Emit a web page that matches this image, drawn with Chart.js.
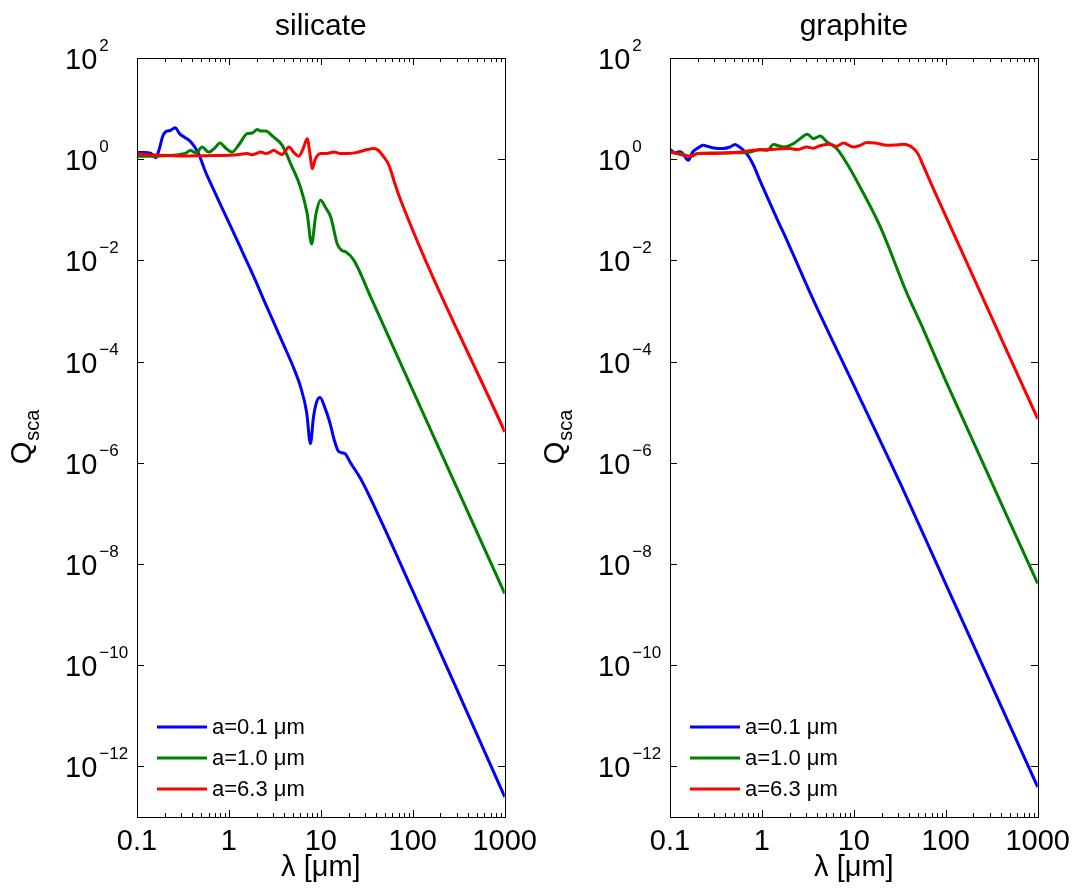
<!DOCTYPE html>
<html>
<head>
<meta charset="utf-8">
<title>Q_sca silicate / graphite</title>
<script src="https://cdn.jsdelivr.net/npm/chart.js@4.4.1/dist/chart.umd.min.js"></script>
<style>
  body { margin: 0; background: #fff; }
  .panel { position: absolute; top: 0; }
</style>
</head>
<body>
<div class="panel" style="left:0px"><canvas id="silicateChart" width="545" height="892"></canvas></div>
<div class="panel" style="left:533px"><canvas id="graphiteChart" width="545" height="892"></canvas></div>
<script>
// Axis ticks
var xTickValues = [0.1, 1, 10, 100, 1000];
var xTickLabels = ['0.1', '1', '10', '100', '1000'];
var yTickValues = [1e2, 1e0, 1e-2, 1e-4, 1e-6, 1e-8, 1e-10, 1e-12];
var yTickExponents = ['2', '0', '\u22122', '\u22124', '\u22126', '\u22128', '\u221210', '\u221212'];
var panelTitles = ['silicate', 'graphite'];
var seriesLabels = ['a=0.1 \u03bcm', 'a=1.0 \u03bcm', 'a=6.3 \u03bcm'];
var xTitle = '\u03bb [\u03bcm]';

// silicate, a=0.1 um
var silBlueLam = [0.1, 0.12, 0.14, 0.16, 0.175, 0.19, 0.205, 0.23, 0.26, 0.29, 0.33, 0.37, 0.42, 0.47, 0.55, 0.65, 0.8, 1.0, 1.4, 2.0, 2.5, 3.2, 4.0, 5.0, 6.0, 7.0, 7.7, 8.3, 9.0, 9.8, 11, 12.5, 14, 15.5, 17, 18.6, 21, 27, 45, 100, 300, 1000];
var silBlueQ = [1.35, 1.35, 1.32, 1.07, 1.6, 2.8, 3.5, 3.7, 4.2, 3.2, 2.7, 2.35, 1.8, 1.26, 0.59, 0.3, 0.132, 0.056, 0.0148, 3.55e-3, 1.38e-3, 5.0e-4, 2.0e-4, 7.9e-5, 3.2e-5, 1.0e-5, 2.4e-6, 7.9e-6, 1.6e-5, 1.95e-5, 1.26e-5, 6.3e-6, 2.8e-6, 1.7e-6, 1.58e-6, 1.48e-6, 1.0e-6, 4.9e-7, 7.2e-8, 2.9e-9, 3.4e-11, 2.5e-13];

// silicate, a=1.0 um
var silGreenLam = [0.1, 0.15, 0.2, 0.25, 0.3, 0.34, 0.38, 0.44, 0.51, 0.6, 0.7, 0.8, 0.92, 1.08, 1.3, 1.58, 1.8, 2.03, 2.25, 2.5, 3.05, 3.8, 4.68, 6.0, 7.1, 7.93, 8.8, 9.93, 11.2, 12.8, 15.1, 16.8, 18.6, 22.9, 34.8, 100, 1000];
var silGreenQ = [1.15, 1.15, 1.17, 1.2, 1.26, 1.32, 1.48, 1.32, 1.74, 1.38, 1.66, 2.09, 1.66, 1.38, 2.0, 3.2, 3.3, 3.85, 3.6, 3.6, 2.75, 1.88, 0.82, 0.28, 0.084, 0.021, 0.079, 0.155, 0.112, 0.072, 0.021, 0.0158, 0.0148, 0.01, 1.9e-3, 2.7e-5, 2.6e-9];

// silicate, a=6.3 um
var silRedLam = [0.1, 0.13, 0.17, 0.25, 0.35, 0.5, 0.7, 1.0, 1.3, 1.58, 1.8, 2.0, 2.2, 2.5, 2.75, 3.08, 3.4, 3.8, 4.15, 4.49, 5.1, 5.75, 6.4, 7.1, 7.6, 8.05, 8.7, 9.93, 11.5, 13.9, 16, 19.4, 24, 28, 32, 37.8, 42, 48.5, 55, 63, 73.8, 1000];
var silRedQ = [1.29, 1.23, 1.2, 1.17, 1.16, 1.17, 1.18, 1.2, 1.24, 1.29, 1.22, 1.3, 1.39, 1.3, 1.35, 1.5, 1.35, 1.23, 1.5, 1.74, 1.35, 1.14, 1.6, 2.55, 1.3, 0.65, 1.0, 1.29, 1.3, 1.39, 1.3, 1.29, 1.35, 1.45, 1.55, 1.62, 1.5, 1.1, 0.76, 0.355, 0.154, 4.1e-6];

// graphite, a=0.1 um
var graBlueLam = [0.1, 0.115, 0.125, 0.135, 0.158, 0.176, 0.2, 0.23, 0.26, 0.3, 0.38, 0.45, 0.51, 0.56, 0.63, 0.72, 0.81, 0.95, 1.13, 1.5, 1.87, 2.6, 3.64, 10, 32, 100, 1000];
var graBlueQ = [1.55, 1.32, 1.41, 1.35, 0.95, 1.38, 1.66, 1.88, 1.78, 1.66, 1.62, 1.74, 1.95, 1.78, 1.5, 1.12, 0.76, 0.38, 0.186, 0.059, 0.025, 6.4e-3, 1.63e-3, 3.4e-5, 3.9e-7, 4.0e-9, 3.9e-13];

// graphite, a=1.0 um
var graGreenLam = [0.1, 0.13, 0.16, 0.2, 0.3, 0.5, 0.7, 0.955, 1.15, 1.33, 1.71, 2.2, 2.6, 3.13, 3.64, 4.3, 5.1, 6.5, 8.4, 11.7, 19.4, 37.9, 55, 99, 1000];
var graGreenQ = [1.35, 1.3, 1.15, 1.3, 1.32, 1.34, 1.36, 1.55, 1.5, 1.95, 1.74, 2.03, 2.55, 3.1, 2.55, 2.87, 2.19, 1.62, 0.82, 0.28, 0.046, 2.2e-3, 5.0e-4, 4.3e-5, 4.1e-9];

// graphite, a=6.3 um
var graRedLam = [0.1, 0.12, 0.15, 0.17, 0.2, 0.3, 0.5, 0.81, 1.2, 1.6, 2.0, 2.4, 3.1, 3.6, 4.3, 5.5, 6.5, 7.7, 9.9, 11.5, 13.9, 17, 22.9, 28, 34.8, 44.7, 50, 57.5, 74, 1000];
var graRedQ = [1.39, 1.3, 1.15, 1.14, 1.29, 1.3, 1.35, 1.5, 1.55, 1.6, 1.62, 1.55, 1.74, 1.65, 1.85, 1.97, 1.8, 2.09, 1.74, 1.85, 2.13, 2.1, 1.88, 1.9, 1.97, 1.62, 1.26, 0.71, 0.25, 7.4e-6];

var seriesColors = ['#0000ff', '#008000', '#ff0000'];
var fontFamily = '"Liberation Sans", Arial, Helvetica, sans-serif';

Chart.defaults.font.family = fontFamily;
Chart.defaults.color = '#000';

// minor ticks of the log x axis (2..9 in each decade)
var xMinorTicks = [];
for (var d = 0.1; d < 1000; d *= 10) {
    for (var m = 2; m <= 9; m++) xMinorTicks.push(m * d);
}

// Frame, inside ticks, y labels, title and legend
var panelDecor = {
    id: 'panelDecor',
    afterDatasetsDraw: function(chart, args, opts) {
        var ctx = chart.ctx, a = chart.chartArea;
        var xs = chart.scales.x, ys = chart.scales.y;
        var L = Math.round(a.left), R = Math.round(a.right), T = Math.round(a.top), B = Math.round(a.bottom);
        ctx.save();
        ctx.strokeStyle = '#000';
        ctx.lineWidth = 1;
        ctx.strokeRect(L + 0.5, T + 0.5, R - L, B - T);

        ctx.beginPath();
        function xTick(v, len) {
            var px = Math.round(xs.getPixelForValue(v)) + 0.5;
            ctx.moveTo(px, B); ctx.lineTo(px, B - len);
            ctx.moveTo(px, T); ctx.lineTo(px, T + len);
        }
        xTickValues.forEach(function(v) { xTick(v, 7); });
        xMinorTicks.forEach(function(v) { xTick(v, 4); });
        yTickValues.forEach(function(v) {
            var py = Math.round(ys.getPixelForValue(v)) + 0.5;
            ctx.moveTo(L, py); ctx.lineTo(L + 7, py);
            ctx.moveTo(R, py); ctx.lineTo(R - 7, py);
        });
        ctx.stroke();

        // y tick labels 10^n
        ctx.fillStyle = '#000';
        ctx.textAlign = 'left';
        ctx.textBaseline = 'alphabetic';
        yTickValues.forEach(function(v, i) {
            var py = ys.getPixelForValue(v);
            var x0 = a.left - 72;
            ctx.font = '29px ' + fontFamily;
            ctx.fillText('10', x0, py + 11);
            var w = ctx.measureText('10').width;
            ctx.font = '17px ' + fontFamily;
            ctx.fillText(yTickExponents[i], x0 + w + 2, py - 7);
        });

        // y axis title Q_sca
        ctx.save();
        ctx.translate(31, (a.top + a.bottom) / 2);
        ctx.rotate(-Math.PI / 2);
        ctx.font = '29px ' + fontFamily;
        var wQ = ctx.measureText('Q').width;
        ctx.font = '20px ' + fontFamily;
        var wS = ctx.measureText('sca').width;
        var s0 = -(wQ + wS) / 2;
        ctx.font = '29px ' + fontFamily;
        ctx.fillText('Q', s0, 0);
        ctx.font = '20px ' + fontFamily;
        ctx.fillText('sca', s0 + wQ + 1, 8);
        ctx.restore();

        // panel title
        ctx.font = '30px ' + fontFamily;
        ctx.textAlign = 'center';
        ctx.fillText(opts.title, (a.left + a.right) / 2, 35);

        // legend, bottom left inside the axes
        ctx.textAlign = 'left';
        ctx.textBaseline = 'middle';
        ctx.font = '22px ' + fontFamily;
        chart.data.datasets.forEach(function(ds, i) {
            var ly = a.bottom - 90 + i * 31;
            ctx.strokeStyle = ds.borderColor;
            ctx.lineWidth = 3;
            ctx.beginPath();
            ctx.moveTo(a.left + 20, ly);
            ctx.lineTo(a.left + 70, ly);
            ctx.stroke();
            ctx.fillText(ds.label, a.left + 75, ly + 1);
        });
        ctx.restore();
    }
};

function makeChart(canvasId, title, series) {
    var datasets = series.map(function(s, i) {
        return {
            label: seriesLabels[i],
            data: s.lam.map(function(x, j) { return { x: x, y: s.q[j] }; }),
            borderColor: seriesColors[i],
            borderWidth: 3,
            pointRadius: 0,
            fill: false,
            cubicInterpolationMode: 'monotone',
            order: 3 - i
        };
    });
    return new Chart(document.getElementById(canvasId), {
        type: 'line',
        data: { datasets: datasets },
        options: {
            responsive: false,
            animation: false,
            events: [],
            layout: { padding: { top: 58, right: 40, bottom: 0, left: 0 } },
            plugins: {
                legend: { display: false },
                tooltip: { enabled: false },
                panelDecor: { title: title }
            },
            scales: {
                x: {
                    type: 'logarithmic',
                    min: 0.1,
                    max: 1000,
                    grid: { display: false, drawTicks: false },
                    border: { display: false },
                    afterBuildTicks: function(scale) {
                        scale.ticks = xTickValues.map(function(v) { return { value: v }; });
                    },
                    afterFit: function(scale) { scale.height = 75; },
                    ticks: {
                        autoSkip: false,
                        maxRotation: 0,
                        padding: 8,
                        color: '#000',
                        font: { size: 29 },
                        callback: function(value, index) { return xTickLabels[index]; }
                    },
                    title: {
                        display: true,
                        text: xTitle,
                        color: '#000',
                        font: { size: 29 },
                        padding: { top: 0, bottom: 7 }
                    }
                },
                y: {
                    type: 'logarithmic',
                    min: 1e-13,
                    max: 1e2,
                    grid: { display: false, drawTicks: false },
                    border: { display: false },
                    ticks: { display: false },
                    afterFit: function(scale) { scale.width = 137; }
                }
            }
        },
        plugins: [panelDecor]
    });
}

var silicateChart = makeChart('silicateChart', panelTitles[0], [
    { lam: silBlueLam, q: silBlueQ },
    { lam: silGreenLam, q: silGreenQ },
    { lam: silRedLam, q: silRedQ }
]);

var graphiteChart = makeChart('graphiteChart', panelTitles[1], [
    { lam: graBlueLam, q: graBlueQ },
    { lam: graGreenLam, q: graGreenQ },
    { lam: graRedLam, q: graRedQ }
]);
</script>
</body>
</html>
